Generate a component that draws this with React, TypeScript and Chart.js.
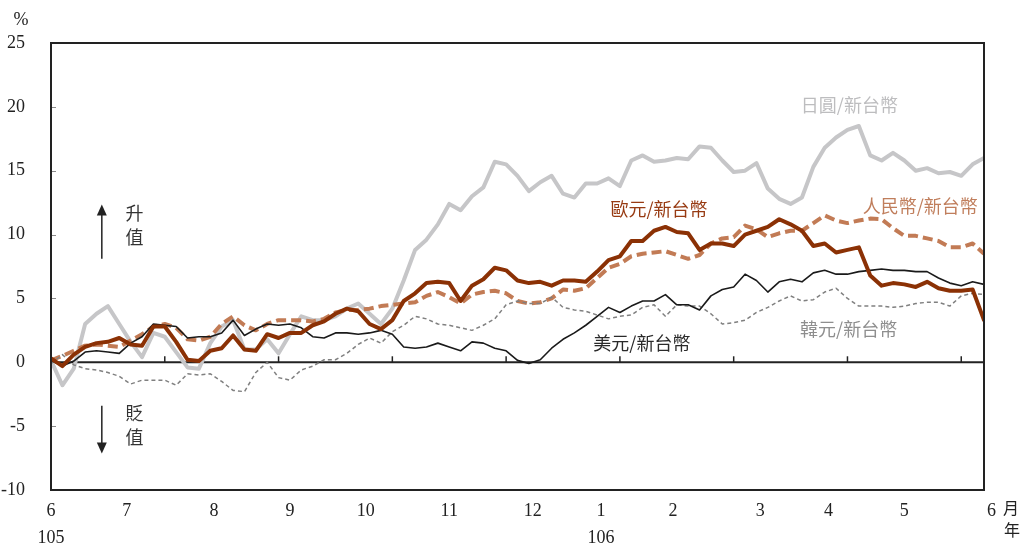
import React, { useEffect, useRef } from "react";
import { Chart, registerables } from "chart.js";

Chart.register(...registerables);

// One sample every STEP trading days, starting June 2016 (民國105年6月)
const STEP = 3;
const LAST_DAY = 246;

// Trading-day index where each month starts, with its axis label
const MONTH_START = [0, 20, 43, 63, 83, 105, 127, 145, 164, 187, 205, 225, 248];
const MONTH_LABELS = ["6", "7", "8", "9", "10", "11", "12", "1", "2", "3", "4", "5", "6"];
const YEAR_LABELS: Record<number, string> = { 0: "105", 145: "106" };
const MARK_EVERY = 30;

const Y_MIN = -10;
const Y_MAX = 25;
const Y_STEP = 5;

// Cumulative appreciation of each currency against NT$ (%)
const JPY = [0.15, -1.8, -0.5, 3.0, 3.8, 4.4, 3.0, 1.6, 0.4, 2.3, 2.0, 0.8, -0.4, -0.5, 1.5, 2.8, 3.3, 1.0, 1.0, 1.8, 0.7, 2.2, 3.6, 3.3, 3.3, 3.6, 4.2, 4.6, 3.8, 3.0, 4.2, 6.4, 8.8, 9.6, 10.8, 12.4, 11.9, 13.0, 13.7, 15.7, 15.5, 14.6, 13.4, 14.1, 14.6, 13.2, 12.9, 14.0, 14.0, 14.4, 13.8, 15.8, 16.2, 15.7, 15.8, 16.0, 15.9, 16.9, 16.8, 15.8, 14.9, 15.0, 15.6, 13.6, 12.8, 12.4, 12.9, 15.3, 16.8, 17.6, 18.2, 18.5, 16.2, 15.8, 16.4, 15.8, 15.0, 15.2, 14.8, 14.9, 14.6, 15.5, 16.0];
const EUR = [0.3, -0.3, 0.6, 1.2, 1.5, 1.6, 1.9, 1.4, 1.3, 2.8, 2.8, 1.6, 0.2, 0.1, 0.9, 1.1, 2.1, 1.0, 0.9, 2.2, 1.9, 2.3, 2.3, 2.9, 3.2, 3.8, 4.2, 4.0, 3.0, 2.6, 3.3, 4.8, 5.4, 6.2, 6.3, 6.2, 4.8, 6.0, 6.5, 7.4, 7.2, 6.4, 6.2, 6.3, 6.0, 6.4, 6.4, 6.3, 7.1, 8.0, 8.3, 9.5, 9.5, 10.3, 10.6, 10.2, 10.1, 8.8, 9.3, 9.3, 9.1, 10.0, 10.3, 10.6, 11.2, 10.8, 10.3, 9.1, 9.3, 8.6, 8.8, 9.0, 6.8, 6.0, 6.2, 6.1, 5.9, 6.3, 5.8, 5.6, 5.6, 5.7, 3.3];
const CNY = [0.15, 0.5, 0.9, 1.3, 1.4, 1.3, 1.2, 1.7, 2.2, 2.8, 3.0, 2.7, 1.8, 1.7, 2.0, 3.0, 3.6, 2.9, 2.5, 3.0, 3.3, 3.3, 3.3, 3.2, 3.4, 3.9, 4.1, 4.1, 4.2, 4.4, 4.5, 4.6, 4.7, 5.2, 5.5, 5.1, 4.6, 5.3, 5.5, 5.6, 5.4, 4.8, 4.6, 4.7, 5.0, 5.7, 5.6, 5.8, 6.6, 7.4, 7.7, 8.3, 8.5, 8.6, 8.7, 8.4, 8.1, 8.4, 9.3, 9.7, 9.8, 10.7, 10.4, 9.8, 10.1, 10.3, 10.3, 10.9, 11.5, 11.1, 10.9, 11.1, 11.25, 11.2, 10.5, 9.9, 9.9, 9.7, 9.5, 9.0, 9.0, 9.3, 8.5];
const USD = [0.15, -0.3, 0.1, 0.8, 0.9, 0.8, 0.7, 1.5, 2.0, 3.0, 2.9, 2.8, 1.9, 2.0, 2.0, 2.3, 3.3, 2.1, 2.6, 3.0, 2.9, 3.0, 2.7, 2.0, 1.9, 2.3, 2.3, 2.2, 2.3, 2.5, 2.2, 1.2, 1.1, 1.2, 1.5, 1.2, 0.9, 1.6, 1.5, 1.1, 0.9, 0.15, -0.1, 0.2, 1.1, 1.8, 2.3, 2.9, 3.6, 4.3, 3.9, 4.4, 4.8, 4.8, 5.3, 4.5, 4.5, 4.1, 5.2, 5.7, 5.9, 6.9, 6.4, 5.5, 6.3, 6.5, 6.3, 7.0, 7.2, 6.9, 6.9, 7.1, 7.2, 7.3, 7.2, 7.2, 7.1, 7.1, 6.6, 6.2, 6.0, 6.3, 6.1];
const KRW = [-0.1, 0.6, -0.2, -0.5, -0.6, -0.8, -1.1, -1.7, -1.4, -1.4, -1.4, -1.8, -0.9, -1.0, -0.9, -1.5, -2.2, -2.3, -0.8, 0.0, -1.2, -1.4, -0.6, -0.3, 0.2, 0.2, 0.7, 1.4, 1.9, 1.5, 2.4, 2.9, 3.6, 3.4, 3.0, 2.9, 2.7, 2.5, 2.9, 3.4, 4.5, 4.8, 4.6, 4.6, 5.1, 4.3, 4.1, 4.0, 3.7, 3.4, 3.6, 3.7, 4.3, 4.5, 3.6, 4.5, 4.4, 4.4, 3.8, 3.0, 3.1, 3.3, 3.9, 4.3, 4.8, 5.2, 4.8, 4.9, 5.5, 5.8, 5.0, 4.4, 4.4, 4.4, 4.3, 4.4, 4.6, 4.7, 4.7, 4.4, 5.2, 5.4, 5.3];

// Series labels, placed in data coordinates (trading day, %)
const SERIES_NOTES = [
  { text: "日圓/新台幣", day: 210.5, value: 20.1, color: "#BDBDBF" },
  { text: "歐元/新台幣", day: 160.3, value: 12.0, color: "#973A12" },
  { text: "人民幣/新台幣", day: 229.2, value: 12.2, color: "#C07E5C" },
  { text: "美元/新台幣", day: 155.8, value: 1.5, color: "#2A2A2A" },
  { text: "韓元/新台幣", day: 210.3, value: 2.6, color: "#8E8E8E" },
];

const SERIF = '"Liberation Serif", "Times New Roman", serif';
const CJK = '"Noto Sans CJK TC", "Noto Sans CJK SC", sans-serif';
const INK = "#222222";

const toPoints = (values: number[]) => values.map((v, i) => ({ x: i * STEP, y: v }));

const frameAndNotes = {
  id: "frameAndNotes",
  beforeDatasetsDraw(chart: any) {
    const { ctx, chartArea: a, scales } = chart;
    const x = scales.x;
    const y = scales.y;
    ctx.save();
    // short inner ticks on the value axis
    ctx.strokeStyle = "#8a8a8a";
    ctx.lineWidth = 1;
    for (let v = Y_MIN + Y_STEP; v < Y_MAX; v += Y_STEP) {
      const py = Math.round(y.getPixelForValue(v)) + 0.5;
      ctx.beginPath();
      ctx.moveTo(a.left, py);
      ctx.lineTo(a.left + 5, py);
      ctx.stroke();
    }
    // zero line with upward marks
    const z = y.getPixelForValue(0);
    ctx.strokeStyle = INK;
    ctx.lineWidth = 2;
    ctx.beginPath();
    ctx.moveTo(a.left, z);
    ctx.lineTo(a.right, z);
    ctx.stroke();
    ctx.lineWidth = 1.5;
    for (let d = MARK_EVERY; d < LAST_DAY; d += MARK_EVERY) {
      const px = x.getPixelForValue(d);
      ctx.beginPath();
      ctx.moveTo(px, z);
      ctx.lineTo(px, z - 6);
      ctx.stroke();
    }
    ctx.restore();
  },
  afterDatasetsDraw(chart: any) {
    const { ctx, chartArea: a, scales } = chart;
    const x = scales.x;
    const y = scales.y;
    ctx.save();
    ctx.strokeStyle = INK;
    ctx.lineWidth = 2;
    ctx.strokeRect(a.left, a.top, a.right - a.left, a.bottom - a.top);

    // series labels
    ctx.textAlign = "center";
    ctx.textBaseline = "middle";
    ctx.font = `18px ${CJK}`;
    for (const n of SERIES_NOTES) {
      ctx.fillStyle = n.color;
      ctx.fillText(n.text, x.getPixelForValue(n.day), y.getPixelForValue(n.value));
    }

    // 升值 / 貶值 arrows
    const ax = x.getPixelForValue(13.4);
    const tx = x.getPixelForValue(22);
    ctx.fillStyle = INK;
    ctx.strokeStyle = INK;
    ctx.lineWidth = 1.5;
    const arrow = (from: number, to: number) => {
      const p0 = y.getPixelForValue(from);
      const p1 = y.getPixelForValue(to);
      const dir = p1 < p0 ? -1 : 1;
      ctx.beginPath();
      ctx.moveTo(ax, p0);
      ctx.lineTo(ax, p1 - dir * 10);
      ctx.stroke();
      ctx.beginPath();
      ctx.moveTo(ax, p1);
      ctx.lineTo(ax - 5, p1 - dir * 11);
      ctx.lineTo(ax + 5, p1 - dir * 11);
      ctx.closePath();
      ctx.fill();
    };
    arrow(8.1, 12.35);
    arrow(-3.4, -7.15);
    ctx.fillStyle = "#333333";
    ctx.font = `18px ${CJK}`;
    ctx.fillText("升", tx, y.getPixelForValue(11.65));
    ctx.fillText("值", tx, y.getPixelForValue(9.8));
    ctx.fillText("貶", tx, y.getPixelForValue(-3.95));
    ctx.fillText("值", tx, y.getPixelForValue(-5.9));

    // unit labels
    ctx.fillStyle = INK;
    ctx.font = `18px ${SERIF}`;
    ctx.fillText("%", a.left - 30, a.top - 23);
    ctx.font = `16px ${CJK}`;
    ctx.fillText("月", a.right + 27, a.bottom + 18);
    ctx.fillText("年", a.right + 28, a.bottom + 40);
    ctx.restore();
  },
};

export default function App() {
  const canvasRef = useRef<HTMLCanvasElement | null>(null);

  useEffect(() => {
    const canvas = canvasRef.current;
    if (!canvas) return;
    const line = (label: string, values: number[], color: string, width: number, dash: number[], order: number) => ({
      label,
      data: toPoints(values),
      borderColor: color,
      backgroundColor: color,
      borderWidth: width,
      borderDash: dash,
      borderJoinStyle: "round" as const,
      borderCapStyle: dash.length ? ("butt" as const) : ("round" as const),
      pointRadius: 0,
      tension: 0,
      fill: false,
      order,
    });

    const chart = new Chart(canvas, {
      type: "line",
      data: {
        datasets: [
          line("日圓/新台幣", JPY, "#C6C6C8", 4, [], 5),
          line("人民幣/新台幣", CNY, "#C27B55", 4, [10, 5], 4),
          line("韓元/新台幣", KRW, "#808080", 1.5, [4, 3], 3),
          line("美元/新台幣", USD, "#1A1A1A", 1.6, [], 2),
          line("歐元/新台幣", EUR, "#8B3105", 4, [], 1),
        ],
      },
      options: {
        responsive: false,
        animation: false,
        devicePixelRatio: 1,
        layout: { padding: { top: 43, right: 38, bottom: 0, left: 0 } },
        plugins: { legend: { display: false }, tooltip: { enabled: false } },
        scales: {
          x: {
            type: "linear",
            min: 0,
            max: LAST_DAY,
            grid: { display: false },
            border: { display: false },
            afterBuildTicks: (s: any) => {
              s.ticks = MONTH_START.map((v) => ({ value: v }));
            },
            afterFit: (s: any) => {
              s.height = 57;
            },
            ticks: {
              autoSkip: false,
              maxRotation: 0,
              minRotation: 0,
              padding: 0,
              color: INK,
              font: { family: SERIF, size: 18, lineHeight: 1.5 },
              callback: (_v: any, i: number) => {
                const year = YEAR_LABELS[MONTH_START[i]];
                return year ? [MONTH_LABELS[i], year] : MONTH_LABELS[i];
              },
            },
          },
          y: {
            min: Y_MIN,
            max: Y_MAX,
            grid: { display: false },
            border: { display: false },
            afterFit: (s: any) => {
              s.width = 51;
            },
            ticks: {
              stepSize: Y_STEP,
              padding: 18,
              color: INK,
              font: { family: SERIF, size: 18 },
            },
          },
        },
      },
      plugins: [frameAndNotes],
    });
    return () => chart.destroy();
  }, []);

  return (
    <div style={{ position: "fixed", left: 0, top: 0, width: 1022, height: 547, background: "#ffffff" }}>
      <canvas ref={canvasRef} width={1022} height={547} />
    </div>
  );
}
